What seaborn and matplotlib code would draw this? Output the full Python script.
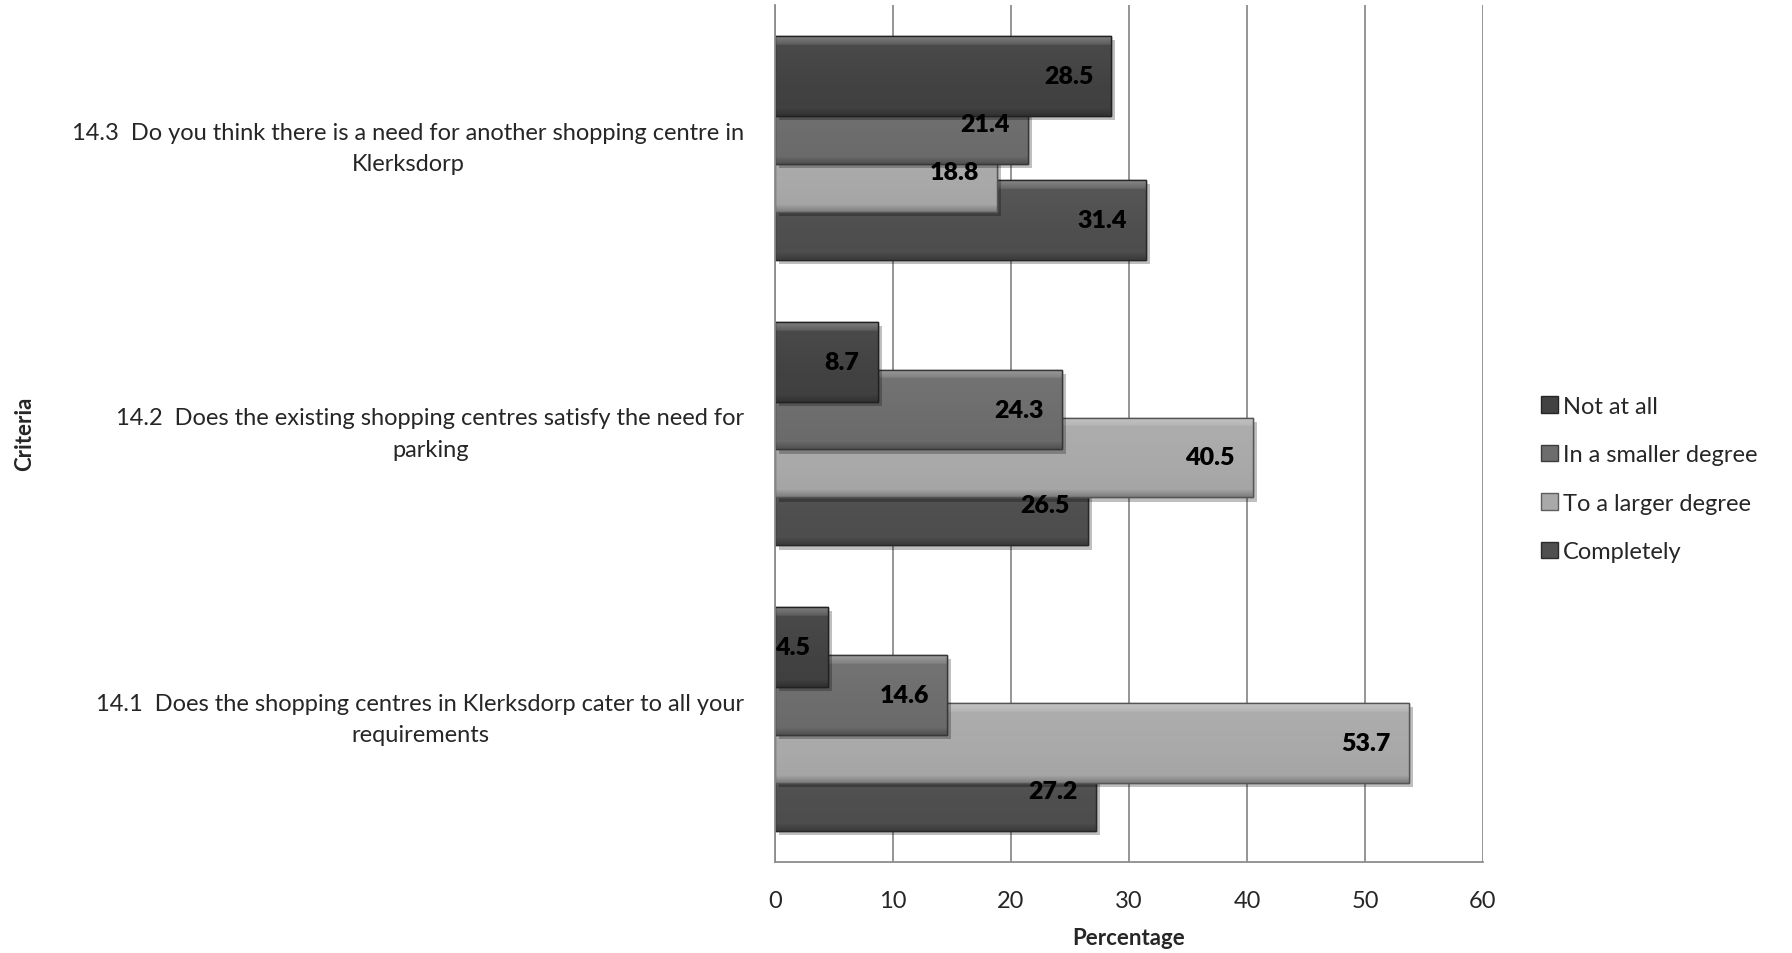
import numpy as np
import pandas as pd
import matplotlib
matplotlib.use("Agg")
import matplotlib.pyplot as plt
import matplotlib.patheffects as pe
from matplotlib.patches import Patch
import seaborn as sns

# Survey questions, listed top to bottom
questions = [
    "14.3  Do you think there is a need for another shopping centre in\nKlerksdorp",
    "14.2  Does the existing shopping centres satisfy the need for\nparking",
    "14.1  Does the shopping centres in Klerksdorp cater to all your\nrequirements",
]
responses = ["Not at all", "In a smaller degree", "To a larger degree", "Completely"]

not_at_all = [28.5, 8.7, 4.5]
smaller_degree = [21.4, 24.3, 14.6]
larger_degree = [18.8, 40.5, 53.7]
completely = [31.4, 26.5, 27.2]

x_ticks = [0, 10, 20, 30, 40, 50, 60]

series_values = [not_at_all, smaller_degree, larger_degree, completely]
colors = ["#424242", "#6d6d6d", "#a9a9a9", "#4f4f4f"]

sns.set_theme(style="white")
plt.rcParams["font.family"] = ["Lato", "DejaVu Sans"]

fig = plt.figure(figsize=(17.92, 9.54), dpi=100)
ax = fig.add_axes([775 / 1792, 1 - 863 / 954, (1483 - 775) / 1792, (863 - 6) / 954])

bar_h = 0.28
step = 0.168
offsets = [-1.5 * step, -0.5 * step, 0.5 * step, 1.5 * step]

def shade(hex_color, f):
    c = np.array(matplotlib.colors.to_rgb(hex_color))
    if f >= 0:
        return c + (1 - c) * f
    return c * (1 + f)

# Draw the bottom-most series first so upper bars overlap the ones below
for k in reversed(range(len(responses))):
    df = pd.DataFrame({
        "pos": np.arange(len(questions)) + offsets[k],
        "value": series_values[k],
    })
    n_before = len(ax.patches)
    sns.barplot(data=df, x="value", y="pos", orient="y", native_scale=True,
                width=bar_h, color=colors[k], saturation=1, ax=ax,
                edgecolor=shade(colors[k], -0.45), linewidth=1.0)
    z = 2 + (len(responses) - k) * 0.1
    for patch in ax.patches[n_before:]:
        patch.set_zorder(z)
        patch.set_path_effects([
            pe.SimplePatchShadow(offset=(3, -3), shadow_rgbFace="#000000", alpha=0.25),
            pe.Normal(),
        ])
        # bevelled look: light top edge, flat face, darker lower rim
        x0, y0 = patch.get_x(), patch.get_y()
        w, h = patch.get_width(), patch.get_height()
        t = np.linspace(0, 1, 64)
        fac = np.where(t < 0.1, 0.32 - 1.8 * t,
                       np.where(t > 0.9, -0.25 * (t - 0.9) / 0.1, 0.05 - 0.08 * t))
        grad = np.array([shade(colors[k], f) for f in fac])[:, None, :]
        grad = np.clip(grad, 0, 1)
        im = ax.imshow(grad, extent=(x0, x0 + w, y0 + h, y0), aspect="auto",
                       interpolation="bilinear", zorder=z + 0.01)
        im.set_clip_path(patch)
        ax.add_patch(matplotlib.patches.Rectangle(
            (x0, y0), w, h, fill=False, edgecolor=shade(colors[k], -0.5),
            linewidth=1.0, zorder=z + 0.02))
    for i, v in enumerate(series_values[k]):
        ax.annotate(f"{v:.1f}", xy=(v, i + offsets[k]), xytext=(-13, 0),
                    textcoords="offset points", ha="right", va="center",
                    fontsize=18, fontweight="heavy", color="black", zorder=10)

ax.set_xlim(0, 60)
ax.set_ylim(len(questions) - 0.5, -0.5)
ax.set_xticks(x_ticks)
ax.set_xticklabels([str(t) for t in x_ticks], fontsize=17)
ax.set_yticks(np.arange(len(questions)))
ax.set_yticklabels(questions, fontsize=17, multialignment="center",
                   linespacing=1.6, va="center")
ax.set_ylabel("")
ax.tick_params(axis="x", length=0, pad=20)
ax.tick_params(axis="y", length=0, pad=22)

ax.set_axisbelow(True)
ax.xaxis.grid(True, color="#8c8c8c", linewidth=1.3)
ax.yaxis.grid(False)
for side in ["top", "right"]:
    ax.spines[side].set_visible(False)
for side in ["left", "bottom"]:
    ax.spines[side].set_color("#8c8c8c")
    ax.spines[side].set_linewidth(1.3)

ax.set_xlabel("Percentage", fontsize=16, fontweight="bold", labelpad=12)
fig.text(25 / 1792, 1 - 434 / 954, "Criteria", rotation=90, fontsize=16,
         fontweight="bold", ha="center", va="center")

handles = [Patch(facecolor=colors[k], edgecolor=shade(colors[k], -0.45))
           for k in range(len(responses))]
fig.legend(handles, responses, loc="center left",
           bbox_to_anchor=(1532 / 1792, 1 - 480 / 954), frameon=False,
           fontsize=17, handlelength=0.7, handleheight=0.7,
           handletextpad=0.2, labelspacing=1.17, borderaxespad=0)

fig.savefig("out.png", dpi=100, facecolor="white")
